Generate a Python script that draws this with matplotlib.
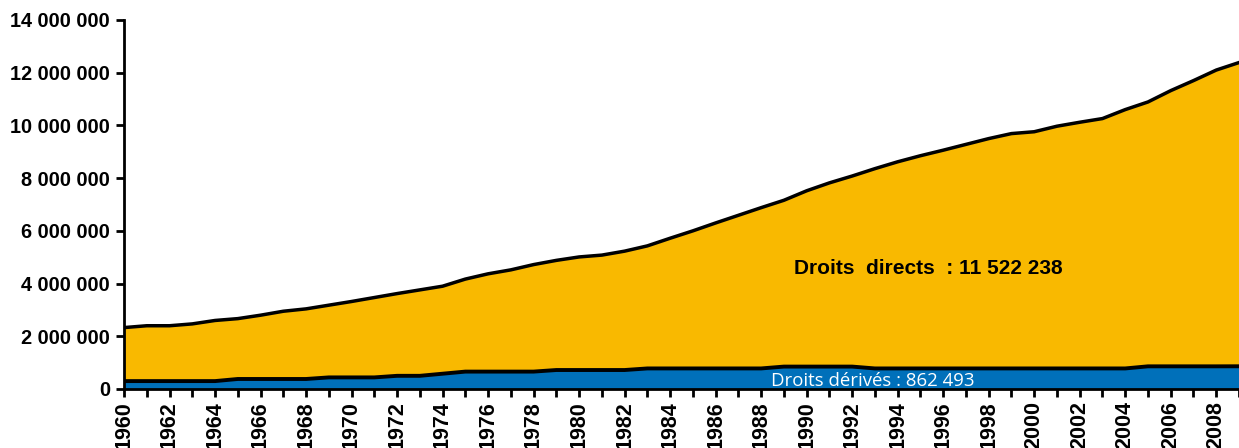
import numpy as np
import matplotlib
matplotlib.use("Agg")
import matplotlib.pyplot as plt
from matplotlib.ticker import FuncFormatter

# years and values (in millions of people)
years = list(range(1960, 2010))

total = [2.33, 2.40, 2.40, 2.47, 2.60, 2.67, 2.80, 2.95, 3.04, 3.18,
         3.32, 3.47, 3.62, 3.76, 3.90, 4.17, 4.37, 4.52, 4.72, 4.88,
         5.01, 5.08, 5.23, 5.43, 5.72, 6.00, 6.30, 6.59, 6.88, 7.16,
         7.52, 7.82, 8.08, 8.36, 8.62, 8.85, 9.06, 9.28, 9.50, 9.69,
         9.76, 9.97, 10.12, 10.26, 10.60, 10.89, 11.32, 11.70, 12.10, 12.385]

derives = [0.30, 0.30, 0.30, 0.30, 0.30, 0.38, 0.38, 0.38, 0.38, 0.44,
           0.44, 0.44, 0.50, 0.50, 0.58, 0.66, 0.66, 0.66, 0.66, 0.72,
           0.72, 0.72, 0.72, 0.78, 0.78, 0.78, 0.78, 0.78, 0.78, 0.85,
           0.85, 0.85, 0.85, 0.78, 0.78, 0.78, 0.78, 0.78, 0.78, 0.78,
           0.78, 0.78, 0.78, 0.78, 0.78, 0.86, 0.86, 0.86, 0.86, 0.862]

label_directs = "Droits  directs  : 11 522 238"
label_derives = "Droits dérivés : 862 493"

yellow = "#F9B900"
blue = "#0070BA"

x = np.array(years)
tot = np.array(total) * 1e6
der = np.array(derives) * 1e6

fig = plt.figure(figsize=(12.39, 4.48), dpi=100)
ax = fig.add_axes([0.1001, 0.1317, 0.8999, 0.8237])

ax.fill_between(x, 0, der, color=blue, lw=0)
ax.fill_between(x, der, tot, color=yellow, lw=0)
ax.plot(x, tot, color="black", lw=2.5)
ax.plot(x, der, color="black", lw=2.8)

ax.set_xlim(1960, 2008.58)
ax.set_ylim(0, 14e6)

ax.set_yticks(np.arange(0, 14e6 + 1, 2e6))
ax.yaxis.set_major_formatter(FuncFormatter(lambda v, p: f"{int(v):,}".replace(",", " ")))
ax.set_xticks(years)
ax.set_xticklabels([str(y) if y % 2 == 0 else "" for y in years], rotation=90)

for lab in ax.get_yticklabels():
    lab.set_fontfamily("Liberation Sans")
    lab.set_fontweight("bold")
    lab.set_fontsize(14.3)
for lab in ax.get_xticklabels():
    lab.set_fontfamily("Liberation Sans")
    lab.set_fontweight("bold")
    lab.set_fontsize(15.5)

ax.tick_params(axis="both", length=6, width=2, color="black", direction="out")
ax.tick_params(axis="y", pad=4)
ax.tick_params(axis="x", pad=3)

for s in ["top", "right"]:
    ax.spines[s].set_visible(False)
for s in ["left", "bottom"]:
    ax.spines[s].set_linewidth(2)
    ax.spines[s].set_zorder(5)

ax.text(1995.35, 4.59e6, label_directs, ha="center", va="center",
        fontsize=15, fontweight="bold", family="Liberation Sans", color="black")
ax.text(1992.9, 0.31e6, label_derives, ha="center", va="center",
        fontsize=13.4, family="Open Sans", color="white")

fig.savefig("out.png", dpi=100)
